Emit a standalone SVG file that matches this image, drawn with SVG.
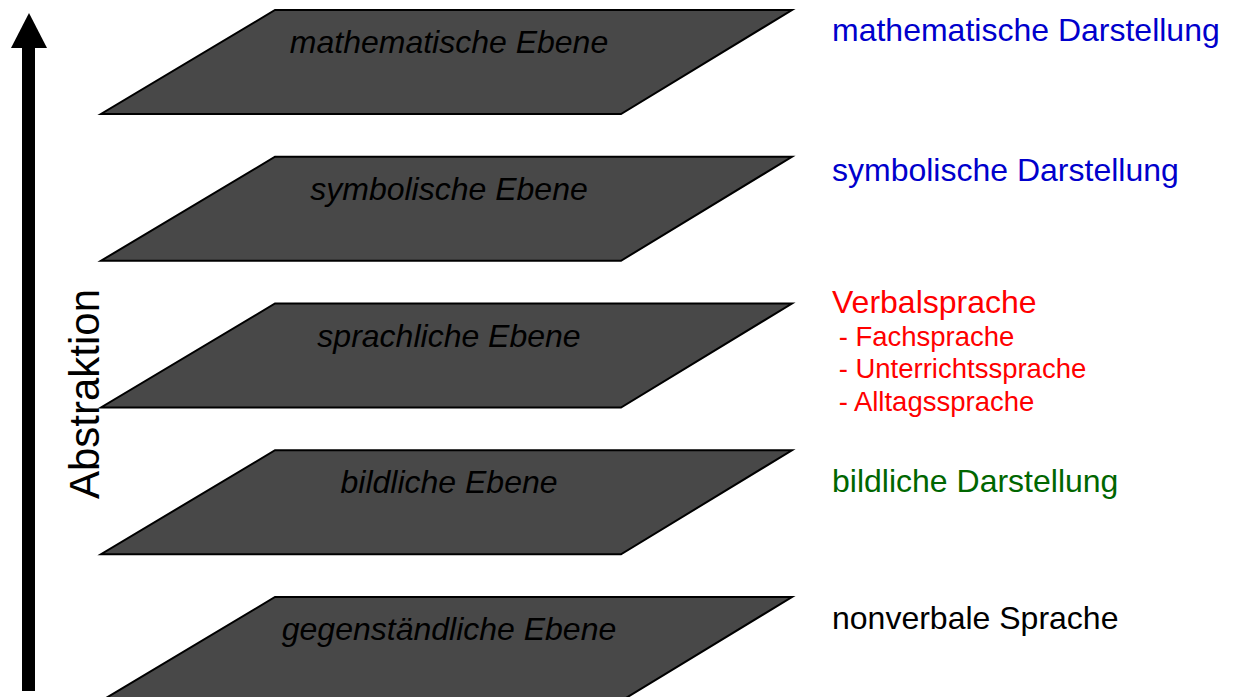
<svg xmlns="http://www.w3.org/2000/svg" width="1233" height="697" viewBox="0 0 1233 697">
<style>
.layer{fill:#484848;stroke:#000;stroke-width:2;stroke-linejoin:miter}
.lt{font-family:"Liberation Sans",Arial,sans-serif;font-style:italic;font-size:32px;fill:#000;text-anchor:middle}
.rt{font-family:"Liberation Sans",Arial,sans-serif;font-size:32px}
.st{font-family:"Liberation Sans",Arial,sans-serif;font-size:27.5px;fill:#ff0000}
.blue{fill:#0000cc}.red{fill:#ff0000}.green{fill:#006600}.black{fill:#000}
</style>
<defs>
<polygon id="plane" points="275,10 792,10 621,114 101,114"/>
</defs>
<g id="connectors">
<rect x="22" y="46" width="13" height="645" fill="#000"/>
<polygon points="11,48 29,13 47,48" fill="#000"/>
</g>
<text x="99" y="394" transform="rotate(-90 99 394)" font-family="Liberation Sans, Arial, sans-serif" font-size="42" text-anchor="middle" fill="#000">Abstraktion</text>
<g id="layer-mathematisch">
<use href="#plane" class="layer"/>
<text x="449" y="53" class="lt">mathematische Ebene</text>
</g>
<g id="layer-symbolisch" transform="translate(0,146.75)">
<use href="#plane" class="layer"/>
<text x="449" y="53" class="lt">symbolische Ebene</text>
</g>
<g id="layer-sprachlich" transform="translate(0,293.5)">
<use href="#plane" class="layer"/>
<text x="449" y="53" class="lt">sprachliche Ebene</text>
</g>
<g id="layer-bildlich" transform="translate(0,440.25)">
<use href="#plane" class="layer"/>
<text x="449" y="53" class="lt">bildliche Ebene</text>
</g>
<g id="layer-gegenstaendlich" transform="translate(0,587)">
<use href="#plane" class="layer"/>
<text x="449" y="53" class="lt">gegenständliche Ebene</text>
</g>
<g id="label-mathematisch"><text x="832" y="41" class="rt blue">mathematische Darstellung</text></g>
<g id="label-symbolisch"><text x="832" y="181" class="rt blue">symbolische Darstellung</text></g>
<g id="label-verbal">
<text x="832" y="313" class="rt red">Verbalsprache</text>
<text x="831" y="346" class="st" xml:space="preserve"> - Fachsprache</text>
<text x="831" y="378" class="st" xml:space="preserve"> - Unterrichtssprache</text>
<text x="831" y="411" class="st" xml:space="preserve"> - Alltagssprache</text>
</g>
<g id="label-bildlich"><text x="832" y="492" class="rt green">bildliche Darstellung</text></g>
<g id="label-gegenstaendlich"><text x="832" y="629" class="rt black">nonverbale Sprache</text></g>
</svg>
